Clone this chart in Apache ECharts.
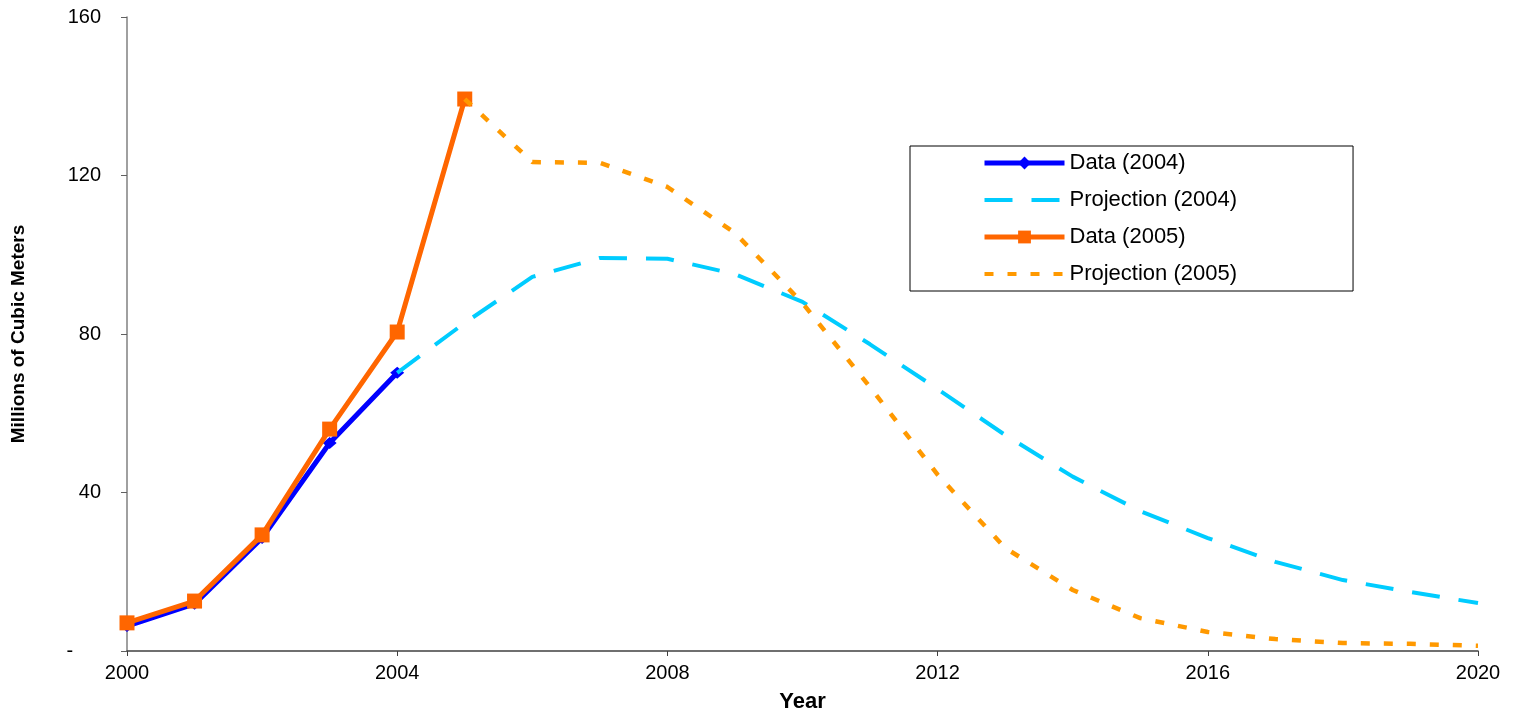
<!DOCTYPE html>
<html>
<head>
<meta charset="utf-8">
<script src="https://cdn.jsdelivr.net/npm/echarts@6/dist/echarts.min.js"></script>
<style>
html,body{margin:0;padding:0;background:#fff;overflow:hidden;}
#chart{width:1513px;height:712px;}
</style>
</head>
<body>
<div id="chart"></div>
<script>
// Data
const dataYears2004 = [2000, 2001, 2002, 2003, 2004];
const data2004 = [6.3, 11.9, 28.5, 52.5, 70.2];
const dataYears2005 = [2000, 2001, 2002, 2003, 2004, 2005];
const data2005 = [7.1, 12.6, 29.3, 56.0, 80.5, 139.3];
const projYears2004 = [2004, 2005, 2006, 2007, 2008, 2009, 2010, 2011, 2012, 2013, 2014, 2015, 2016, 2017, 2018, 2019, 2020];
const proj2004 = [70.2, 82.8, 94.4, 99.2, 99.0, 95.1, 88.1, 77.4, 66.1, 54.5, 44.0, 35.3, 28.5, 22.5, 17.9, 14.9, 12.1];
const projYears2005 = [2005, 2006, 2007, 2008, 2009, 2010, 2011, 2012, 2013, 2014, 2015, 2016, 2017, 2018, 2019, 2020];
const proj2005 = [139.3, 123.4, 123.2, 117.1, 105.5, 87.8, 66.6, 44.5, 26.0, 15.4, 8.3, 4.8, 3.0, 2.0, 1.8, 1.3];
const seriesNames = ['Data (2004)', 'Projection (2004)', 'Data (2005)', 'Projection (2005)'];
const xTitle = 'Year';
const yTitle = 'Millions of Cubic Meters';

const zip = (xs, ys) => xs.map((x, i) => [x, ys[i]]);
const FONT = '"Liberation Sans", Arial, sans-serif';

const chart = echarts.init(document.getElementById('chart'), null, {renderer: 'canvas', width: 1513, height: 712});
chart.setOption({
  animation: false,
  backgroundColor: '#ffffff',
  grid: {left: 127, right: 35, top: 17, bottom: 61, containLabel: false, outerBoundsMode: 'none'},
  legend: {
    orient: 'vertical',
    left: 910, top: 146,
    padding: [6, 116, 6, 72],
    itemWidth: 80, itemHeight: 16, itemGap: 15,
    borderColor: '#000', borderWidth: 1,
    backgroundColor: '#fff',
    textStyle: {fontFamily: FONT, fontSize: 22, lineHeight: 20, color: '#000'},
    data: [
      {name: seriesNames[0], lineStyle: {width: 5}},
      {name: seriesNames[1], lineStyle: {width: 4}, itemStyle: {opacity: 0}},
      {name: seriesNames[2], lineStyle: {width: 5}},
      {name: seriesNames[3], lineStyle: {width: 4}, itemStyle: {opacity: 0}}
    ]
  },
  xAxis: {
    type: 'value', min: 2000, max: 2020, interval: 4,
    name: xTitle, nameLocation: 'middle', nameGap: 40,
    nameTextStyle: {fontFamily: FONT, fontSize: 22, fontWeight: 'bold', color: '#000'},
    axisLine: {show: true, lineStyle: {color: '#404040', width: 1.5}},
    axisTick: {show: true, length: 5, lineStyle: {color: '#404040'}},
    axisLabel: {fontFamily: FONT, fontSize: 20, color: '#000', margin: 12,
      formatter: v => String(v)},
    splitLine: {show: false}
  },
  yAxis: {
    type: 'value', min: 0, max: 160, interval: 40,
    name: yTitle, nameLocation: 'middle', nameRotate: 90, nameGap: 99,
    nameTextStyle: {fontFamily: FONT, fontSize: 19, fontWeight: 'bold', color: '#000'},
    axisLine: {show: true, lineStyle: {color: '#808080', width: 1.5}},
    axisTick: {show: true, length: 6, lineStyle: {color: '#606060'}},
    axisLabel: {fontFamily: FONT, fontSize: 20, color: '#000', margin: 26,
      formatter: v => v === 0 ? '-     ' : String(v)},
    splitLine: {show: false}
  },
  series: [
    {
      name: seriesNames[0], type: 'line', data: zip(dataYears2004, data2004),
      symbol: 'diamond', symbolSize: [14, 12], showSymbol: true,
      lineStyle: {color: '#0000FF', width: 5},
      itemStyle: {color: '#0000FF'}, z: 2
    },
    {
      name: seriesNames[1], type: 'line', data: zip(projYears2004, proj2004),
      symbol: 'none',
      lineStyle: {color: '#00CCFF', width: 4, type: [28, 19]},
      itemStyle: {color: '#00CCFF'}, z: 3
    },
    {
      name: seriesNames[2], type: 'line', data: zip(dataYears2005, data2005),
      symbol: 'rect', symbolSize: 15, showSymbol: true,
      lineStyle: {color: '#FF6600', width: 5},
      itemStyle: {color: '#FF6600'}, z: 4
    },
    {
      name: seriesNames[3], type: 'line', data: zip(projYears2005, proj2005),
      symbol: 'none',
      lineStyle: {color: '#FF9900', width: 4.5, type: [9, 14]},
      itemStyle: {color: '#FF9900'}, z: 5
    }
  ]
});
</script>
</body>
</html>
